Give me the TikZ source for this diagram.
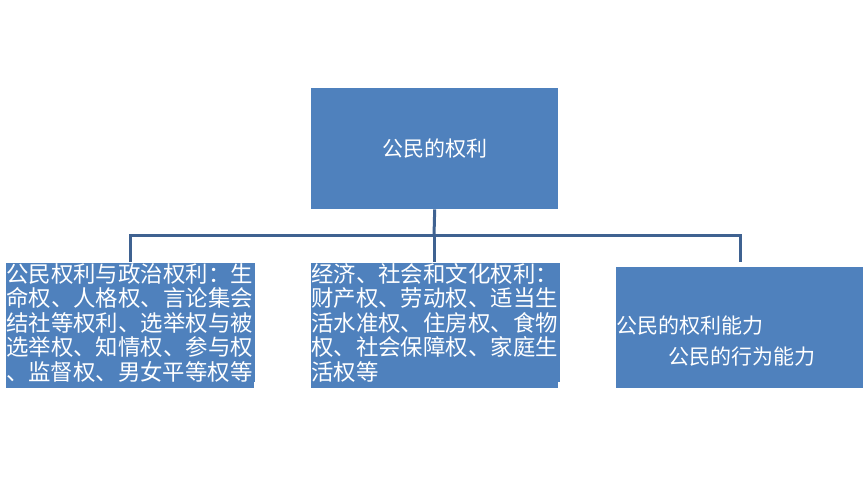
\documentclass[tikz,border=0pt]{standalone}
\usepackage{fontspec}
\newfontfamily\cjk{Noto Sans CJK SC}
\XeTeXlinebreaklocale "zh"
\XeTeXlinebreakskip=0pt plus 1pt
\definecolor{bx}{HTML}{4F81BD}
\definecolor{ln}{HTML}{3F6291}
\begin{document}
\begin{tikzpicture}[x=1pt,y=-1pt,
  box/.style={fill=bx,draw=none,inner sep=0pt,text=white,font=\cjk\fontsize{21}{24}\selectfont},
  big/.style={box,font=\cjk\fontsize{22.4}{24.5}\selectfont},
  conn/.style={draw=ln,line width=3pt}]
\useasboundingbox (0,0) rectangle (868,478);
\node[box,minimum width=247,minimum height=121,anchor=north west] (top) at (311,88) {公民的权利};
\node[box,minimum width=248,minimum height=123,anchor=north west] (l) at (6,265) {};
\node[big,anchor=north west,text width=249,align=left] at (6,263) {公民权利与政治权利：生命权、人格权、言论集会结社等权利、选举权与被选举权、知情权、参与权\linebreak 、监督权、男女平等权等};
\node[box,minimum width=247,minimum height=123,anchor=north west] (m) at (311,265) {};
\node[big,anchor=north west,text width=249,align=left] at (311,263) {经济、社会和文化权利：财产权、劳动权、适当生活水准权、住房权、食物权、社会保障权、家庭生活权等};
\node[box,minimum width=247,minimum height=121,anchor=north west] (r) at (616,267) {};
\node[box,anchor=west] at (616,326) {公民的权利能力};
\node[box,anchor=west] at (668,357) {公民的行为能力};
\coordinate (j) at (434,236);
\draw[conn] (top.south) -- (j);
\draw[conn] (130,262) |- (740,236) -- (740,262);
\draw[conn] (j) -- (434,262);
\end{tikzpicture}
\end{document}
